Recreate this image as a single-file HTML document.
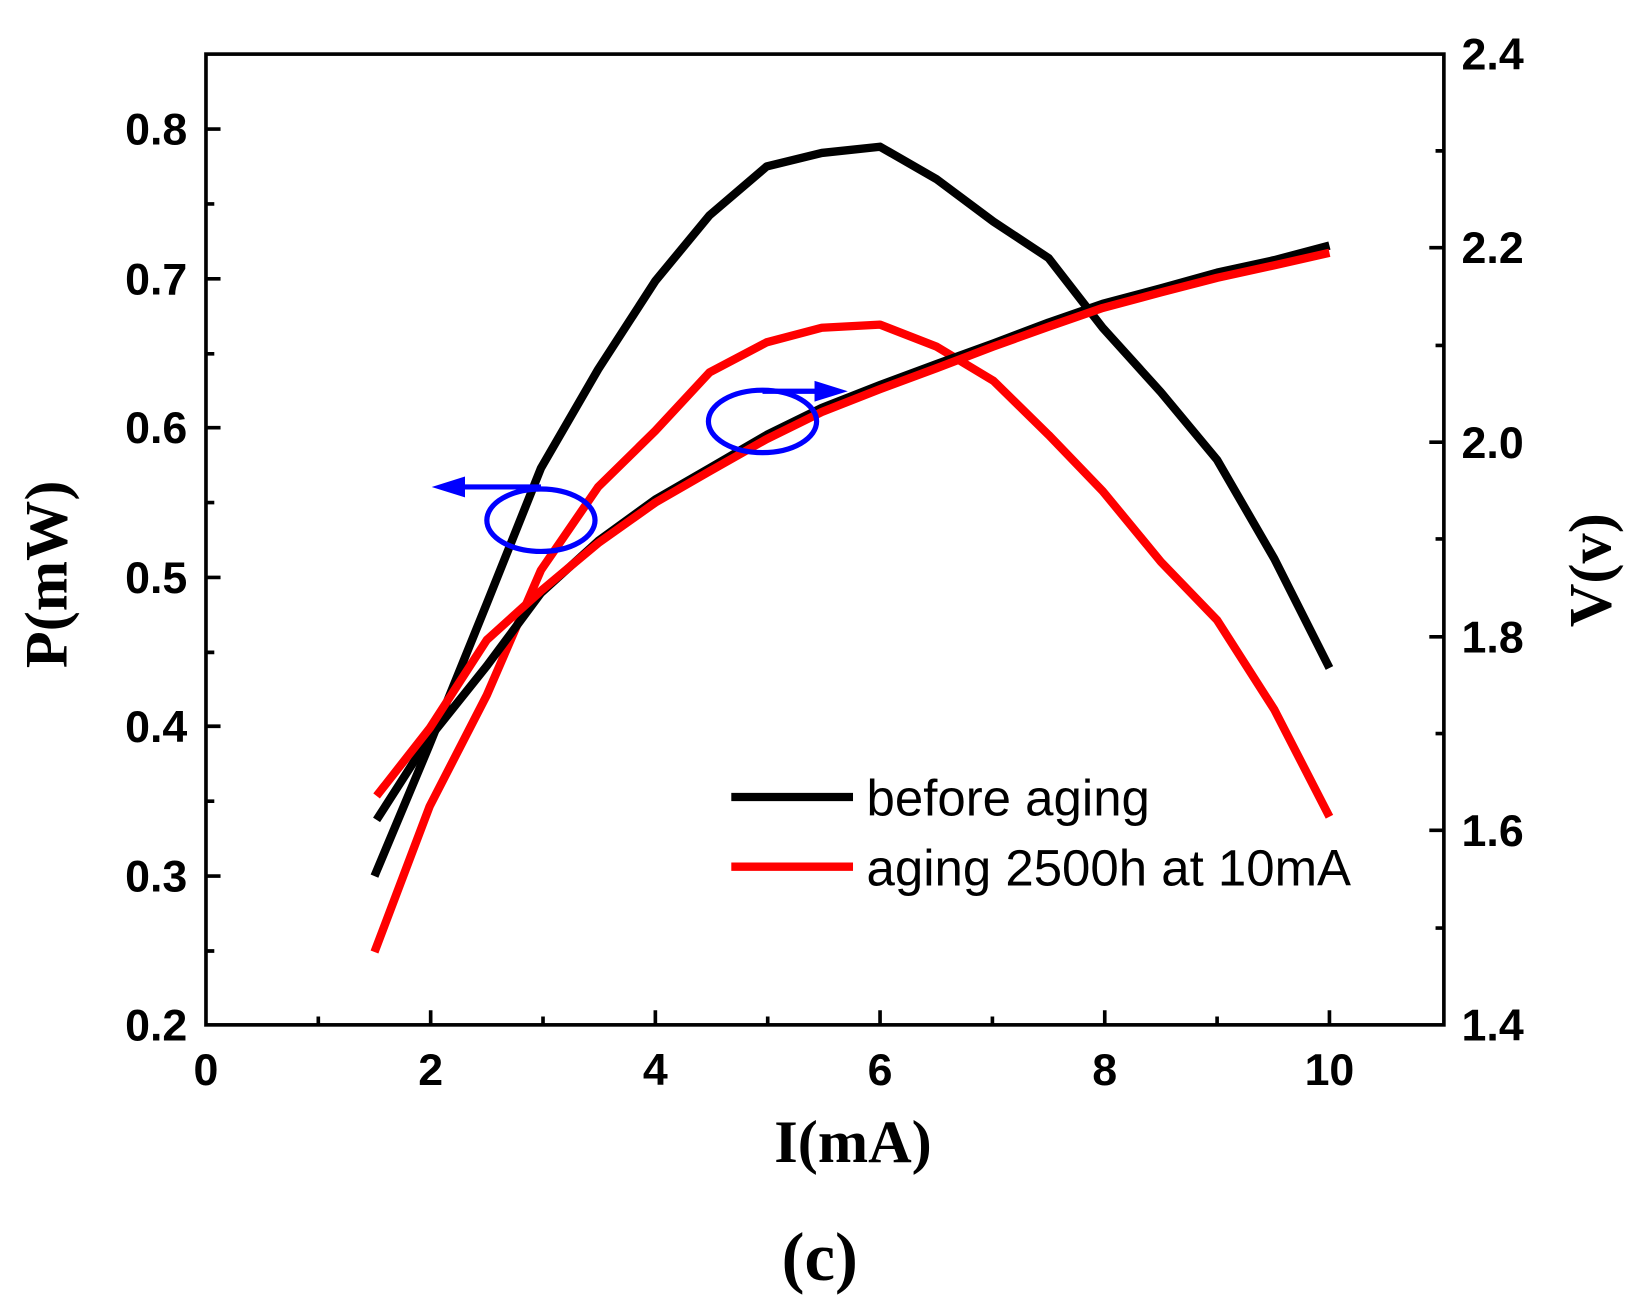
<!DOCTYPE html>
<html><head><style>html,body{margin:0;padding:0;background:#fff;}svg{display:block}</style></head><body>
<svg width="1628" height="1311" viewBox="0 0 1565 1260" preserveAspectRatio="none" xmlns="http://www.w3.org/2000/svg">
<rect width="1565" height="1260" fill="#fff"/>
<g stroke="#000" stroke-width="3.5" fill="none">
<rect x="198" y="52" width="1190" height="933"/>
<path d="M198 124h14M198 196h8M198 268h14M198 340h8M198 411h14M198 483h8M198 555h14M198 627h8M198 698h14M198 770h8M198 842h14M198 914h8"/>
<path d="M306 985v-8M414 985v-14M522 985v-8M630 985v-14M738 985v-8M846 985v-14M954 985v-8M1062 985v-14M1170 985v-8M1278 985v-14"/>
<path d="M1388 145h-8M1388 238h-14M1388 332h-8M1388 425h-14M1388 518h-8M1388 612h-14M1388 705h-8M1388 798h-14M1388 892h-8"/>
</g>
<g font-family="Liberation Sans, sans-serif" font-weight="bold" font-size="43" fill="#000">
<g text-anchor="end">
<text x="180" y="139">0.8</text><text x="180" y="283">0.7</text><text x="180" y="426">0.6</text><text x="180" y="570">0.5</text><text x="180" y="713">0.4</text><text x="180" y="857">0.3</text><text x="180" y="1000">0.2</text>
</g>
<g>
<text x="1405" y="67">2.4</text><text x="1405" y="253">2.2</text><text x="1405" y="440">2.0</text><text x="1405" y="627">1.8</text><text x="1405" y="813">1.6</text><text x="1405" y="1000">1.4</text>
</g>
<g text-anchor="middle">
<text x="198" y="1043">0</text><text x="414" y="1043">2</text><text x="630" y="1043">4</text><text x="846" y="1043">6</text><text x="1062" y="1043">8</text><text x="1278" y="1043">10</text>
</g>
</g>
<g font-family="Liberation Serif, serif" font-weight="bold" font-size="58" fill="#000" text-anchor="middle">
<text x="820" y="1117">I(mA)</text>
<text x="788" y="1230" font-size="66">(c)</text>
<text transform="translate(64,552) rotate(-90)">P(mW)</text>
<text transform="translate(1548,548) rotate(-90)">V(v)</text>
</g>
<g fill="none" stroke-width="8" stroke-linejoin="round">
<polyline stroke="#000" points="360,842 412,718 468,580 520,450 575,355 630,270 682,207 737,160 790,147 846,141 900,172 955,213 1008,248 1060,315 1116,377 1170,442 1225,537 1278,642"/>
<polyline stroke="#f00" points="360,915 413,775 468,668 520,548 575,468 630,414 682,358 737,329 790,315 846,312 900,333 955,366 1008,418 1060,472 1116,540 1170,596 1225,682 1278,785"/>
<polyline stroke="#000" points="362,788 412,710 468,640 520,570 575,520 630,480 682,450 737,418 790,392 846,370 900,350 955,330 1008,310 1060,292 1116,277 1170,262 1225,250 1278,236"/>
<polyline stroke="#f00" points="362,765 413,700 468,615 520,568 575,522 630,483 682,453 737,422 790,396 846,374 900,354 955,333 1008,314 1060,296 1116,281 1170,267 1225,255 1278,243"/>
</g>
<g stroke="#00f" stroke-width="5" fill="none">
<ellipse cx="520" cy="500" rx="52" ry="30"/>
<ellipse cx="733" cy="405" rx="52" ry="30"/>
<path d="M520 468H435M733 376H795"/>
</g>
<g fill="#00f">
<polygon points="415,468 447,458 447,478"/>
<polygon points="815,376 783,366 783,386"/>
</g>
<g stroke-width="8">
<line x1="703" y1="766" x2="820" y2="766" stroke="#000"/>
<line x1="703" y1="833" x2="820" y2="833" stroke="#f00"/>
</g>
<g font-family="Liberation Sans, sans-serif" font-size="49" fill="#000">
<text x="833" y="784">before aging</text>
<text x="833" y="851">aging 2500h at 10mA</text>
</g>
</svg>
</body></html>
